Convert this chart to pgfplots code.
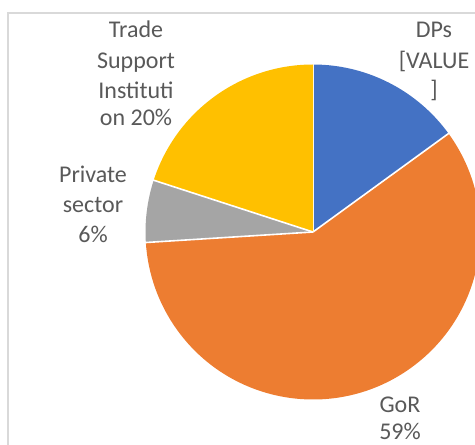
\documentclass[border=0pt]{standalone}
\usepackage{fontspec}
\setmainfont{Carlito}
\usepackage{pgfplots}
\usepackage{pgfplotstable}
\pgfplotsset{compat=1.18}
\definecolor{dps}{HTML}{4472C4}
\definecolor{gor}{HTML}{ED7D31}
\definecolor{pri}{HTML}{A5A5A5}
\definecolor{tsi}{HTML}{FFC000}
\definecolor{lbl}{HTML}{595959}
\definecolor{frame}{HTML}{D9D9D9}

% shares in percent, clockwise from 12 o'clock
\pgfplotstableread{
name share col
DPs 15 dps
GoR 59 gor
Private 6 pri
TSI 20 tsi
}\piedata

\newcommand{\lbl}[3]{\node[anchor=base, inner sep=0pt, text=lbl,
  font=\fontsize{24}{29}\selectfont] at (axis cs:#1,#2) {#3};}

\begin{document}
\begin{tikzpicture}
\begin{axis}[
    x=1pt, y=1pt,
    xmin=0, xmax=475, ymin=0, ymax=445,
    scale only axis,
    hide axis,
    disabledatascaling,
]
\pgfplotsextra{
  \pgfkeys{/pgf/fpu=false}
  \pgfplotstablegetrowsof{\piedata}
  \pgfmathtruncatemacro\nrows{\pgfplotsretval-1}
  \gdef\cum{0}
  \foreach \i in {0,...,\nrows}{
    \pgfplotstablegetelem{\i}{share}\of\piedata
    \let\share\pgfplotsretval
    \pgfplotstablegetelem{\i}{col}\of\piedata
    \let\slicecol\pgfplotsretval
    \pgfmathsetmacro\sa{90-3.6*\cum}
    \pgfmathsetmacro\ea{90-3.6*(\cum+\share)}
    \pgfmathsetmacro\newcum{\cum+\share}
    \xdef\cum{\newcum}
    \fill[\slicecol]
      (axis cs:313,213) -- ++(\sa:167.5pt)
      arc[start angle=\sa, end angle=\ea, radius=167.5pt] -- cycle;
    \draw[white, line width=1.6pt] (axis cs:313,213) -- ++(\sa:170pt);
  }
}
% chart area frame
\draw[frame, line width=1.2pt] (axis cs:8,0) -- (axis cs:8,432) -- (axis cs:480,432);
% data labels
\lbl{136}{407}{Trade}
\lbl{136}{376}{Support}
\lbl{136}{346}{Instituti}
\lbl{136}{319}{on 20\%}
\lbl{434}{407}{DPs}
\lbl{434}{376}{[VALUE}
\lbl{434}{347}{]}
\lbl{93}{262}{Private}
\lbl{93}{232}{sector}
\lbl{93}{202}{6\%}
\lbl{400}{32}{GoR}
\lbl{400}{5}{59\%}
\end{axis}
\pgfresetboundingbox
\path (current axis.south west) rectangle (current axis.north east);
\end{tikzpicture}
\end{document}
